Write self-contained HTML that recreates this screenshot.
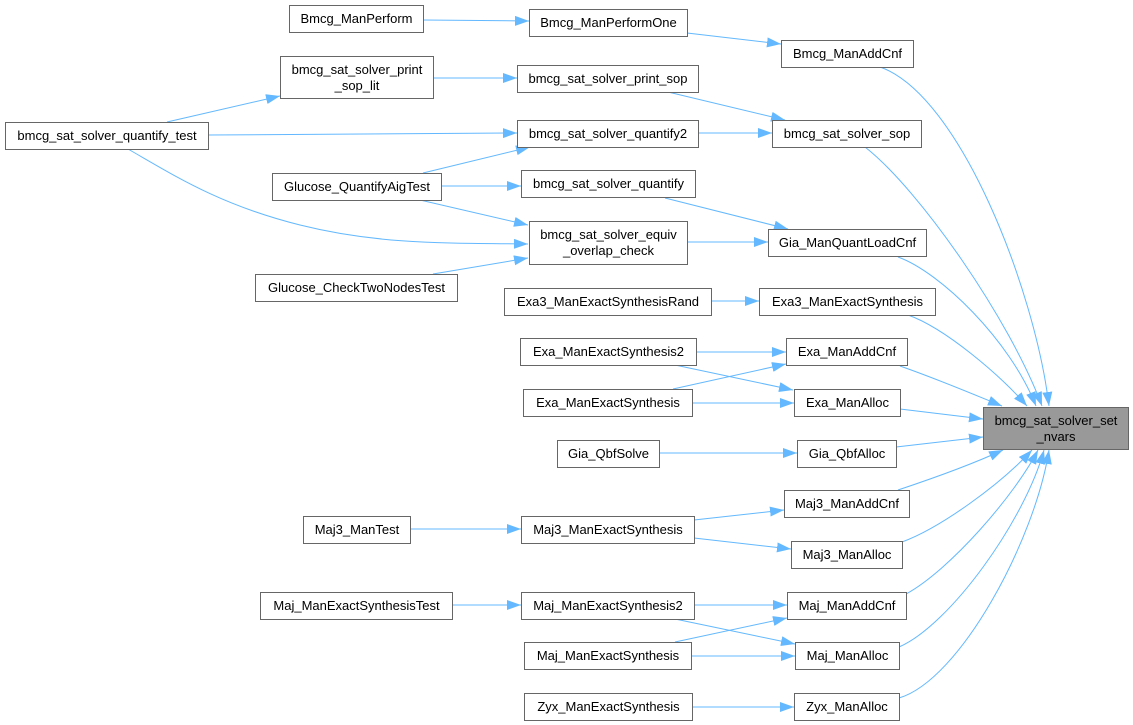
<!DOCTYPE html>
<html><head><meta charset="utf-8"><style>
html,body{margin:0;padding:0;background:#fff;}
svg{display:block;}
text{font-family:"Liberation Sans",Arial,sans-serif;font-size:13px;fill:#000;text-anchor:middle;}
.b{fill:#fff;stroke:#666;stroke-width:1;}
.g{fill:#999;stroke:#666;stroke-width:1;}
.e{fill:none;stroke:#63b8ff;stroke-width:1;marker-end:url(#a);}
</style></head><body>
<svg width="1133" height="725" viewBox="0 0 1133 725" xmlns="http://www.w3.org/2000/svg">
<defs><marker id="a" markerUnits="userSpaceOnUse" markerWidth="15" markerHeight="11" refX="14" refY="5" orient="auto"><path d="M0,0 L14,5 L0,10 z" fill="#63b8ff"/></marker></defs>

<!-- edges -->
<path class="e" d="M423,20 L529,21"/>
<path class="e" d="M687,33 L781,44"/>
<path class="e" d="M880,67 C960,95 1035,290 1049,406"/>
<path class="e" d="M433,78 L517,78"/>
<path class="e" d="M167,122 L280,96"/>
<path class="e" d="M208,135 L517,133"/>
<path class="e" d="M128,149 C175,176 220,205 300,225 S450,243 528,244"/>
<path class="e" d="M668,92 L785,120"/>
<path class="e" d="M698,133 L772,133"/>
<path class="e" d="M423,173 L530,147"/>
<path class="e" d="M441,186 L521,186"/>
<path class="e" d="M420,200 L528,225"/>
<path class="e" d="M433,274 L528,258"/>
<path class="e" d="M665,198 L788,229"/>
<path class="e" d="M687,242 L768,242"/>
<path class="e" d="M865,147 C920,190 1010,320 1042,406"/>
<path class="e" d="M898,257 C940,272 1010,340 1036,406"/>
<path class="e" d="M711,301 L759,301"/>
<path class="e" d="M908,315 C945,328 1000,375 1027,406"/>
<path class="e" d="M696,352 L786,352"/>
<path class="e" d="M675,365 L793,390"/>
<path class="e" d="M673,389 L786,364"/>
<path class="e" d="M692,403 L794,403"/>
<path class="e" d="M900,366 C940,380 975,395 1002,406"/>
<path class="e" d="M900,409 L983,419"/>
<path class="e" d="M659,453 L797,453"/>
<path class="e" d="M896,447 L983,437"/>
<path class="e" d="M898,490 C940,476 975,463 1003,450"/>
<path class="e" d="M902,542 C940,528 1000,485 1032,450"/>
<path class="e" d="M906,594 C950,570 1015,495 1038,450"/>
<path class="e" d="M899,647 C950,625 1025,520 1044,450"/>
<path class="e" d="M899,698 C960,680 1035,540 1049,450"/>
<path class="e" d="M410,529 L521,529"/>
<path class="e" d="M694,520 L784,510"/>
<path class="e" d="M694,538 L791,549"/>
<path class="e" d="M452,605 L521,605"/>
<path class="e" d="M694,605 L787,605"/>
<path class="e" d="M675,619 L795,644"/>
<path class="e" d="M675,642 L787,618"/>
<path class="e" d="M691,656 L795,656"/>
<path class="e" d="M692,707 L794,707"/>

<!-- nodes -->
<rect class="b" x="289.5" y="5.5" width="134" height="27"/><text x="356.5" y="23">Bmcg_ManPerform</text>
<rect class="b" x="529.5" y="9.5" width="158" height="27"/><text x="608.5" y="27">Bmcg_ManPerformOne</text>
<rect class="b" x="781.5" y="40.5" width="132" height="27"/><text x="847.5" y="58">Bmcg_ManAddCnf</text>
<rect class="b" x="280.5" y="56.5" width="153" height="42"/><text x="357" y="74">bmcg_sat_solver_print</text><text x="357" y="90">_sop_lit</text>
<rect class="b" x="517.5" y="65.5" width="181" height="27"/><text x="608" y="83">bmcg_sat_solver_print_sop</text>
<rect class="b" x="5.5" y="122.5" width="203" height="27"/><text x="107" y="140">bmcg_sat_solver_quantify_test</text>
<rect class="b" x="517.5" y="120.5" width="181" height="27"/><text x="608" y="138">bmcg_sat_solver_quantify2</text>
<rect class="b" x="772.5" y="120.5" width="149" height="27"/><text x="847" y="138">bmcg_sat_solver_sop</text>
<rect class="b" x="272.5" y="173.5" width="169" height="27"/><text x="357" y="191">Glucose_QuantifyAigTest</text>
<rect class="b" x="521.5" y="170.5" width="174" height="27"/><text x="608.5" y="188">bmcg_sat_solver_quantify</text>
<rect class="b" x="529.5" y="221.5" width="158" height="43"/><text x="608.5" y="239">bmcg_sat_solver_equiv</text><text x="608.5" y="255">_overlap_check</text>
<rect class="b" x="768.5" y="229.5" width="158" height="27"/><text x="847.5" y="247">Gia_ManQuantLoadCnf</text>
<rect class="b" x="255.5" y="274.5" width="202" height="27"/><text x="356.5" y="292">Glucose_CheckTwoNodesTest</text>
<rect class="b" x="504.5" y="288.5" width="207" height="27"/><text x="608" y="306">Exa3_ManExactSynthesisRand</text>
<rect class="b" x="759.5" y="288.5" width="176" height="27"/><text x="847.5" y="306">Exa3_ManExactSynthesis</text>
<rect class="b" x="520.5" y="338.5" width="176" height="27"/><text x="608.5" y="356">Exa_ManExactSynthesis2</text>
<rect class="b" x="786.5" y="338.5" width="121" height="27"/><text x="847" y="356">Exa_ManAddCnf</text>
<rect class="b" x="523.5" y="389.5" width="169" height="27"/><text x="608" y="407">Exa_ManExactSynthesis</text>
<rect class="b" x="794.5" y="389.5" width="106" height="27"/><text x="847.5" y="407">Exa_ManAlloc</text>
<rect class="b" x="557.5" y="440.5" width="102" height="27"/><text x="608.5" y="458">Gia_QbfSolve</text>
<rect class="b" x="797.5" y="440.5" width="99" height="27"/><text x="847" y="458">Gia_QbfAlloc</text>
<rect class="g" x="983.5" y="407.5" width="145" height="42"/><text x="1056" y="425">bmcg_sat_solver_set</text><text x="1056" y="441">_nvars</text>
<rect class="b" x="784.5" y="490.5" width="125" height="27"/><text x="847" y="508">Maj3_ManAddCnf</text>
<rect class="b" x="303.5" y="516.5" width="107" height="27"/><text x="357" y="534">Maj3_ManTest</text>
<rect class="b" x="521.5" y="516.5" width="173" height="27"/><text x="608" y="534">Maj3_ManExactSynthesis</text>
<rect class="b" x="791.5" y="541.5" width="111" height="27"/><text x="847" y="559">Maj3_ManAlloc</text>
<rect class="b" x="260.5" y="592.5" width="192" height="27"/><text x="356.5" y="610">Maj_ManExactSynthesisTest</text>
<rect class="b" x="521.5" y="592.5" width="173" height="27"/><text x="608" y="610">Maj_ManExactSynthesis2</text>
<rect class="b" x="787.5" y="592.5" width="119" height="27"/><text x="847" y="610">Maj_ManAddCnf</text>
<rect class="b" x="524.5" y="642.5" width="167" height="27"/><text x="608" y="660">Maj_ManExactSynthesis</text>
<rect class="b" x="795.5" y="642.5" width="104" height="27"/><text x="847.5" y="660">Maj_ManAlloc</text>
<rect class="b" x="524.5" y="693.5" width="168" height="27"/><text x="608.5" y="711">Zyx_ManExactSynthesis</text>
<rect class="b" x="794.5" y="693.5" width="105" height="27"/><text x="847" y="711">Zyx_ManAlloc</text>
</svg>
</body></html>
